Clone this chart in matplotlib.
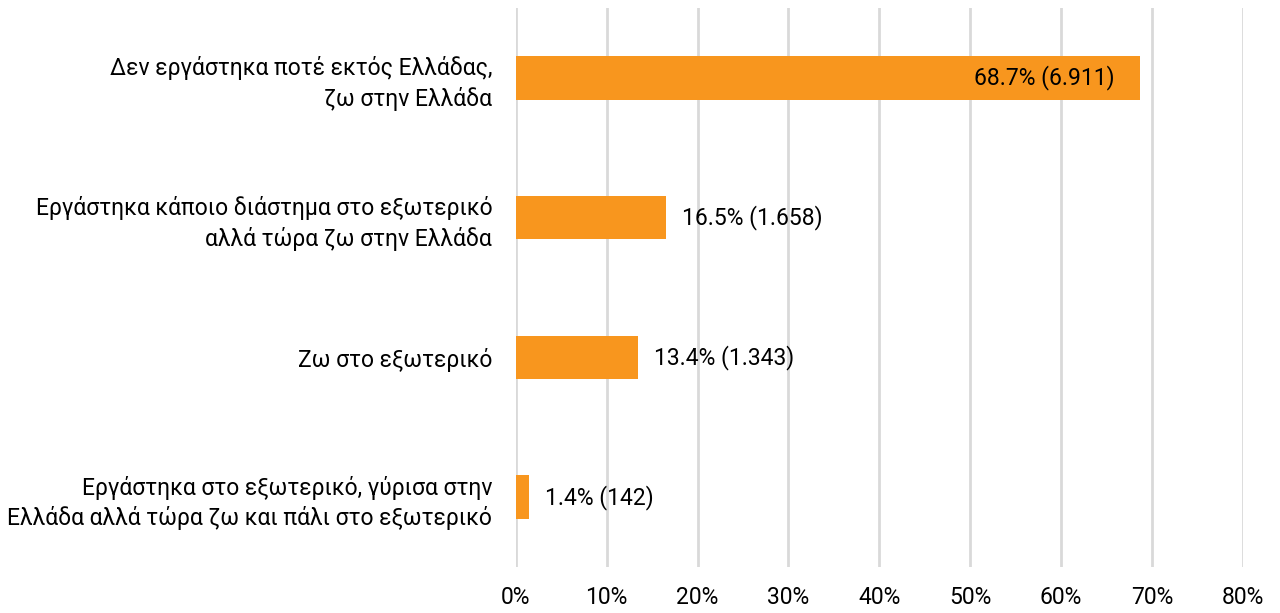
import matplotlib.pyplot as plt
import matplotlib.ticker as mticker
from matplotlib import font_manager

categories = [
    "Δεν εργάστηκα ποτέ εκτός Ελλάδας,\nζω στην Ελλάδα",
    "Εργάστηκα κάποιο διάστημα στο εξωτερικό\nαλλά τώρα ζω στην Ελλάδα",
    "Ζω στο εξωτερικό",
    "Εργάστηκα στο εξωτερικό, γύρισα στην\nΕλλάδα αλλά τώρα ζω και πάλι στο εξωτερικό",
]
shares = [68.7, 16.5, 13.4, 1.4]
counts = ["6.911", "1.658", "1.343", "142"]
ticks = [0, 10, 20, 30, 40, 50, 60, 70, 80]

installed = {f.name for f in font_manager.fontManager.ttflist}
family = "Liberation Sans Narrow" if "Liberation Sans Narrow" in installed else "Roboto"
plt.rcParams["font.family"] = [family, "DejaVu Sans"]

bar_color = "#F8961E"
grid_color = "#D9D9D9"

fig = plt.figure(figsize=(12.8, 6.13), dpi=100)
ax = fig.add_axes([0.403, 0.075, 0.568, 0.912])

y = list(range(len(categories)))
ax.barh(y, shares, height=0.31, color=bar_color, zorder=3)

for yi, share, count in zip(y, shares, counts):
    label = f"{share}% ({count})"
    if share > 50:
        ax.text(share - 2.8, yi, label, ha="right", va="center", fontsize=16.5, color="black", zorder=4)
    else:
        ax.text(share + 1.8, yi, label, ha="left", va="center", fontsize=16.5, color="black", zorder=4)

ax.set_xlim(0, 80)
ax.set_ylim(3.5, -0.5)
ax.set_xticks(ticks)
ax.xaxis.set_major_formatter(mticker.FuncFormatter(lambda v, _: f"{v:.0f}%"))
ax.set_yticks(y)
ax.set_yticklabels(categories, fontsize=16.5, linespacing=1.35)
ax.tick_params(axis="y", length=0, pad=17)
ax.tick_params(axis="x", length=0, pad=14, labelsize=16.5)
ax.grid(axis="x", color=grid_color, linewidth=2, zorder=0)
for spine in ax.spines.values():
    spine.set_visible(False)

fig.savefig("out.png", dpi=100)
